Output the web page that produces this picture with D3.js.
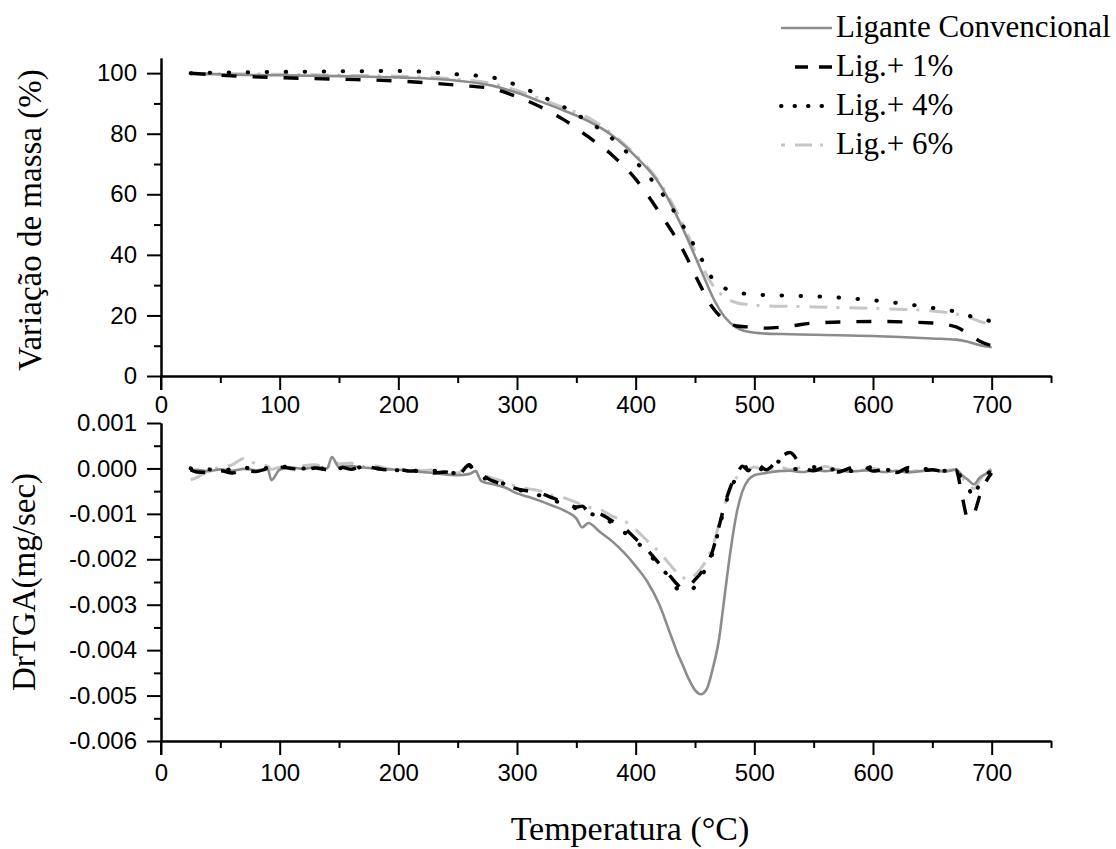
<!DOCTYPE html>
<html>
<head>
<meta charset="utf-8">
<script src="https://cdn.jsdelivr.net/npm/d3@7"></script>
<style>
  body { margin: 0; background: #fff; }
  .tick text { font-family: "Liberation Sans", Arial, sans-serif; font-size: 24px; fill: #000; }
  .tick line, .domain { stroke: #000; stroke-width: 2; }
  .title { font-family: "Liberation Serif", "Times New Roman", serif; font-size: 33px; fill: #000; }
  .legend text { font-family: "Liberation Serif", "Times New Roman", serif; font-size: 31px; fill: #000; }
</style>
</head>
<body>
<div id="my_dataviz"></div>
<script>
// ---- data ----
var seriesNames = ["Ligante Convencional", "Lig.+ 1%", "Lig.+ 4%", "Lig.+ 6%"];

// TG: mass variation (%) vs temperature (°C)
var tgTemp = [25, 50, 100, 150, 200, 250, 280, 300, 320, 340, 360, 380, 400, 420, 440, 455, 465, 475, 485, 495, 510, 530, 550, 600, 650, 670, 680, 690, 700];
var tgConv = [100, 99.6, 99.3, 99.0, 98.6, 97.5, 95.8, 93.5, 90.6, 87.6, 84.2, 79.5, 72.5, 63.5, 48.5, 35, 26, 19.5, 16, 14.6, 14, 13.8, 13.6, 13.2, 12.4, 12, 11.3, 10.2, 9.5];
var tg1 = [100, 99.3, 98.5, 98, 97.4, 96, 94.8, 92.2, 88.8, 84.5, 79, 73, 65, 54, 41.5, 29.5, 22.5, 18.5, 16.5, 16.2, 15.8, 16.5, 17.5, 18, 17.5, 16.2, 14, 11.5, 10];
var tg4 = [100, 100.2, 100.4, 100.6, 100.7, 99.6, 98.5, 96, 92.5, 88.7, 84, 78.5, 70.8, 61.5, 49.5, 39, 32, 29, 27.8, 27, 26.7, 26.5, 26.3, 25, 22.5, 21.2, 20, 19, 18];
var tg6 = [99.5, 99.8, 99.6, 99.3, 99, 98, 96.5, 94.3, 91.5, 88.5, 85.3, 80, 73, 64, 50, 37, 30, 26, 24.2, 23.6, 23.2, 23, 22.8, 22.3, 21.5, 20.5, 19.5, 18, 17];

// DTG: derivative (mg/sec) vs temperature (°C)
var dtgTemp = [25, 30, 40, 50, 60, 70, 80, 90, 93, 100,
  110, 120, 130, 140, 144, 150, 160, 170, 180, 190,
  200, 210, 220, 230, 240, 250, 260, 265, 270, 280,
  290, 300, 310, 320, 330, 340, 350, 355, 360, 370,
  380, 390, 400, 410, 420, 430, 435, 440, 445, 450,
  455, 460, 465, 470, 475, 480, 485, 490, 495, 500,
  510, 520, 530, 540, 550, 560, 570, 580, 590, 600,
  610, 620, 630, 640, 650, 660, 670, 675, 680, 685,
  690, 695, 700];
var dtgConv = [-0.5e-4, -0.3e-4, -0.6e-4, -0.2e-4, -0.5e-4, -0.1e-4, -0.4e-4, -0.2e-4, -2.6e-4, -0.3e-4,
  0.2e-4, -0.1e-4, 0.3e-4, 0, 2.5e-4, 0.3e-4, 0.5e-4, 0.2e-4, 0, -0.2e-4,
  -0.3e-4, -0.5e-4, -0.8e-4, -1.0e-4, -1.3e-4, -1.5e-4, -1.2e-4, -0.6e-4, -2.8e-4, -3.5e-4,
  -4.2e-4, -5.5e-4, -6.3e-4, -7.2e-4, -8.2e-4, -9.3e-4, -11.0e-4, -13.0e-4, -12.0e-4, -14.0e-4,
  -16.0e-4, -18.5e-4, -21.5e-4, -25.0e-4, -30.0e-4, -37.0e-4, -40.5e-4, -43.5e-4, -46.5e-4, -48.8e-4,
  -49.7e-4, -48.5e-4, -44.0e-4, -38.0e-4, -28.0e-4, -18.0e-4, -10.0e-4, -5.0e-4, -2.5e-4, -1.5e-4,
  -1.0e-4, -0.6e-4, -0.5e-4, -0.8e-4, -0.4e-4, -0.6e-4, -0.3e-4, -0.7e-4, -0.5e-4, -0.4e-4,
  -0.8e-4, -0.5e-4, -0.9e-4, -0.6e-4, -0.4e-4, -0.7e-4, -0.3e-4, -1.5e-4, -2.5e-4, -3.5e-4,
  -2.0e-4, -1.2e-4, -0.4e-4];
var dtg1 = [-0.3e-4, -0.8e-4, -0.9e-4, -0.5e-4, -1.0e-4, -0.3e-4, -0.7e-4, -0.1e-4, -0.5e-4, 0.3e-4,
  0, -0.4e-4, 0.1e-4, -0.3e-4, 0.2e-4, 0.4e-4, -0.2e-4, 0.5e-4, 0.1e-4, -0.3e-4,
  -0.2e-4, -0.6e-4, -0.4e-4, -1.0e-4, -0.8e-4, -1.5e-4, 0.8e-4, -1.2e-4, -1.5e-4, -2.8e-4,
  -3.6e-4, -4.5e-4, -5.0e-4, -5.5e-4, -6.5e-4, -7.5e-4, -8.5e-4, -8.3e-4, -9.5e-4, -10.0e-4,
  -11.5e-4, -13.0e-4, -15.5e-4, -18.0e-4, -21.0e-4, -24.0e-4, -25.5e-4, -26.5e-4, -26.0e-4, -24.5e-4,
  -23.0e-4, -21.0e-4, -18.0e-4, -13.0e-4, -8.0e-4, -4.0e-4, -1.5e-4, 0.5e-4, -0.5e-4, 1.5e-4,
  -0.3e-4, 2.0e-4, 3.5e-4, 0.5e-4, -0.5e-4, 0.3e-4, -0.8e-4, 0, 0.8e-4, -0.6e-4,
  -0.2e-4, -0.9e-4, 0.2e-4, -0.5e-4, -0.3e-4, -0.7e-4, -0.4e-4, -6.0e-4, -11.0e-4, -10.0e-4,
  -6.0e-4, -3.0e-4, -1.0e-4];
var dtg4 = [0, -0.3e-4, -0.2e-4, -0.6e-4, -0.1e-4, 0.2e-4, -0.3e-4, 0.1e-4, 0, 0.2e-4,
  0.5e-4, 0, 0.3e-4, -0.2e-4, 0.4e-4, 0.1e-4, -0.1e-4, 0.3e-4, 0, -0.1e-4,
  -0.4e-4, -0.3e-4, -0.8e-4, -0.5e-4, -1.1e-4, -0.9e-4, 0.5e-4, -0.8e-4, -2.0e-4, -2.5e-4,
  -3.5e-4, -4.5e-4, -5.5e-4, -6.0e-4, -7.0e-4, -7.8e-4, -8.8e-4, -9.0e-4, -9.8e-4, -10.5e-4,
  -12.0e-4, -14.0e-4, -16.0e-4, -18.5e-4, -21.5e-4, -24.5e-4, -26.5e-4, -27.0e-4, -27.0e-4, -26.0e-4,
  -24.0e-4, -21.5e-4, -18.5e-4, -13.5e-4, -8.5e-4, -4.5e-4, -2.0e-4, -0.5e-4, 0.5e-4, -0.8e-4,
  0.5e-4, 1.5e-4, 0, -0.2e-4, 0.3e-4, -0.5e-4, 0, -0.6e-4, -0.2e-4, 0.3e-4,
  -0.4e-4, -0.1e-4, -0.6e-4, -0.3e-4, 0, -0.5e-4, -0.2e-4, -2.5e-4, -4.0e-4, -6.5e-4,
  -3.0e-4, -1.5e-4, -0.5e-4];
var dtg6 = [-2.5e-4, -2.0e-4, -0.5e-4, 0.3e-4, 0.8e-4, 2.2e-4, 1.0e-4, 0.5e-4, -0.2e-4, 0.2e-4,
  -0.3e-4, 0.6e-4, 0.8e-4, 0, 1.8e-4, 1.0e-4, 1.2e-4, 0.4e-4, 0.6e-4, 0,
  -0.2e-4, -0.2e-4, -0.5e-4, -0.3e-4, -0.8e-4, -1.0e-4, 1.0e-4, -0.5e-4, -1.2e-4, -2.2e-4,
  -3.0e-4, -4.0e-4, -4.5e-4, -5.0e-4, -6.0e-4, -6.5e-4, -7.5e-4, -8.0e-4, -8.5e-4, -9.0e-4,
  -10.5e-4, -11.5e-4, -13.5e-4, -16.0e-4, -18.5e-4, -21.5e-4, -23.0e-4, -24.0e-4, -24.5e-4, -23.5e-4,
  -22.0e-4, -20.0e-4, -17.0e-4, -12.5e-4, -8.0e-4, -4.5e-4, -2.0e-4, -0.8e-4, -0.2e-4, 0.3e-4,
  -0.5e-4, 0.5e-4, -0.3e-4, 0.2e-4, -0.2e-4, 0.4e-4, -0.3e-4, 0.2e-4, -0.4e-4, 0,
  -0.5e-4, -0.2e-4, -0.7e-4, -0.4e-4, -0.1e-4, -0.5e-4, -0.2e-4, -2.0e-4, -3.0e-4, -4.5e-4,
  -2.5e-4, -1.0e-4, 0];

// tick values
var tempTicks = [0, 100, 200, 300, 400, 500, 600, 700];
var tempMinor = [50, 150, 250, 350, 450, 550, 650, 750];
var massTicks = [0, 20, 40, 60, 80, 100];
var massMinor = [10, 30, 50, 70, 90];
var dtgTicks = [0.001, 0, -0.001, -0.002, -0.003, -0.004, -0.005, -0.006];
var dtgMinor = [0.0005, -0.0005, -0.0015, -0.0025, -0.0035, -0.0045, -0.0055];

// ---- styles per series ----
var styles = [
  {color: "#8c8c8c", width: 2.6, dash: null, cap: "butt", legendDash: null, lx: 781},
  {color: "#000000", width: 3.4, dash: "15,16", cap: "butt", legendDash: "13,11", lx: 795},
  {color: "#000000", width: 4, dash: "0.5,18.5", cap: "round", legendDash: "0.5,13", lx: 781},
  {color: "#c6c6c6", width: 3, dash: "18,9,3,10", cap: "butt", legendDash: "4,10,17,8,3,10", lx: 781}
];

var width = 1116, height = 849;
var svg = d3.select("#my_dataviz")
            .append("svg")
              .attr("width", width)
              .attr("height", height);

var x = d3.scaleLinear().domain([0, 750]).range([161, 1051]);
var yTop = d3.scaleLinear().domain([0, 105]).range([376, 58]);
var yBot = d3.scaleLinear().domain([-0.006, 0.001]).range([741, 423]);

// ---- axes ----
function drawX(yPos, pad) {
  svg.append("g")
     .attr("transform", "translate(0," + yPos + ")")
     .call(d3.axisBottom(x).tickValues(tempMinor).tickSize(7).tickSizeOuter(0).tickFormat(""));
  svg.append("g")
     .attr("transform", "translate(0," + yPos + ")")
     .attr("font-family", "Liberation Sans, Arial, sans-serif")
     .attr("font-size", 24)
     .call(d3.axisBottom(x).tickValues(tempTicks).tickSize(14).tickSizeOuter(0).tickPadding(pad));
}
function drawY(scale, major, minor, fmt) {
  svg.append("g")
     .attr("transform", "translate(161,0)")
     .call(d3.axisLeft(scale).tickValues(minor).tickSize(7).tickSizeOuter(0).tickFormat(""));
  svg.append("g")
     .attr("transform", "translate(161,0)")
     .attr("font-family", "Liberation Sans, Arial, sans-serif")
     .attr("font-size", 24)
     .call(d3.axisLeft(scale).tickValues(major).tickSize(14).tickSizeOuter(0).tickPadding(10).tickFormat(fmt));
  // axis line runs a little below the x axis, like the original
  svg.append("line")
     .attr("x1", 161).attr("x2", 161)
     .attr("y1", scale.range()[0]).attr("y2", scale.range()[0] + 14)
     .attr("stroke", "#000").attr("stroke-width", 2);
}
drawX(376, 6);
drawX(741, 9);
drawY(yTop, massTicks, massMinor, d3.format("d"));
drawY(yBot, dtgTicks, dtgMinor, function(d) { return d.toFixed(3); });

// ---- curves ----
function drawSeries(temps, vals, yScale, st) {
  var pts = temps.map(function(t, i) { return [t, vals[i]]; });
  var line = d3.line()
               .x(function(d) { return x(d[0]); })
               .y(function(d) { return yScale(d[1]); })
               .curve(d3.curveMonotoneX);
  svg.append("path")
     .datum(pts)
     .attr("fill", "none")
     .attr("stroke", st.color)
     .attr("stroke-width", st.width)
     .attr("stroke-dasharray", st.dash)
     .attr("stroke-linecap", st.cap)
     .attr("stroke-linejoin", "round")
     .attr("d", line);
}
var tgSeries = [tgConv, tg1, tg4, tg6];
var dtgSeries = [dtgConv, dtg1, dtg4, dtg6];
// draw light ones first so black sits on top
[3, 0, 1, 2].forEach(function(i) {
  drawSeries(tgTemp, tgSeries[i], yTop, styles[i]);
  drawSeries(dtgTemp, dtgSeries[i], yBot, styles[i]);
});

// ---- legend ----
var legend = svg.append("g").attr("class", "legend");
seriesNames.forEach(function(name, i) {
  var base = 37 + i * 39;
  legend.append("line")
        .attr("x1", styles[i].lx).attr("x2", 832)
        .attr("y1", base - 9).attr("y2", base - 9)
        .attr("stroke", styles[i].color)
        .attr("stroke-width", styles[i].width)
        .attr("stroke-dasharray", styles[i].legendDash)
        .attr("stroke-linecap", styles[i].cap);
  legend.append("text")
        .attr("x", 836)
        .attr("y", base)
        .text(name);
});

// ---- axis titles ----
svg.append("text")
   .attr("class", "title")
   .attr("text-anchor", "middle")
   .attr("transform", "translate(41,220) rotate(-90)")
   .text("Variação de massa (%)");
svg.append("text")
   .attr("class", "title")
   .attr("text-anchor", "middle")
   .attr("transform", "translate(35,582) rotate(-90)")
   .text("DrTGA(mg/sec)");
svg.append("text")
   .attr("class", "title")
   .attr("text-anchor", "middle")
   .attr("font-size", 34)
   .style("font-size", "34px")
   .attr("x", 630)
   .attr("y", 840)
   .text("Temperatura (°C)");
</script>
</body>
</html>
